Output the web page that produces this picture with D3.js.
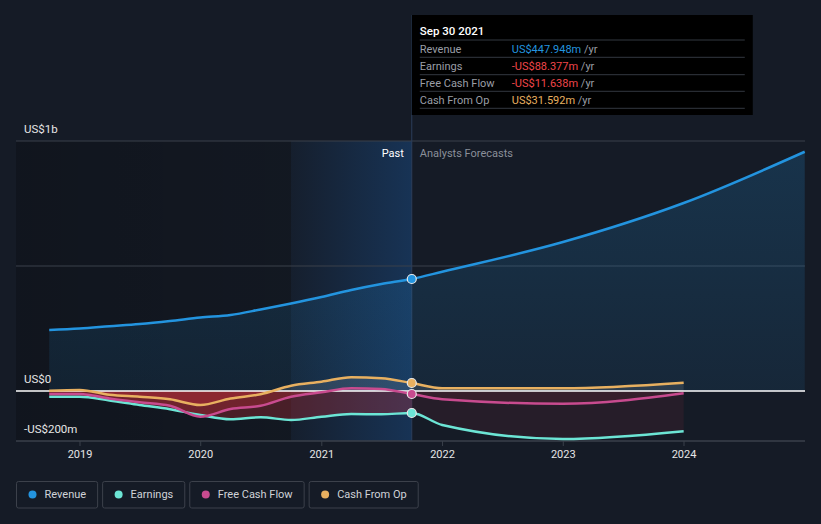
<!DOCTYPE html>
<html><head><meta charset="utf-8">
<script src="https://cdn.jsdelivr.net/npm/d3@7"></script>
<style>
body{margin:0;background:#151b26;}
svg{display:block;font-family:Roboto,"Open Sans",sans-serif;}
</style>
</head><body>
<svg id="chart" width="821" height="524"></svg>
<script>
// ---------- data ----------
const pastDates = ["2018-09-30","2018-12-31","2019-03-31","2019-06-30","2019-09-30","2019-12-31","2020-03-31","2020-06-30","2020-09-30","2020-12-31","2021-03-31","2021-06-30","2021-09-30"];
const forecastDates = ["2021-09-30","2021-12-31","2022-12-31","2023-12-31"];
const revenueForecastDates = ["2021-09-30","2021-12-31","2022-12-31","2023-12-31","2024-12-31"];

const revenuePast = [244,250,259,268,280,294,304,326,350,376,404,428,448];
const revenueForecast = [448,477,596,752,957];
const earningsPast = [-23,-23,-38,-56,-73,-96,-113,-105,-116,-103,-92,-93,-88];
const earningsForecast = [-88,-136,-192,-161];
const fcfPast = [-12,-12,-30,-45,-59,-103,-72,-59,-23,-5,11,8,-12];
const fcfForecast = [-12,-33,-51,-9];
const cfoPast = [1,4,-15,-23,-33,-56,-30,-13,21,37,55,51,32];
const cfoForecast = [32,11,11,33];

const yTicks = [{v:1000,label:"US$1b"},{v:500,label:""},{v:0,label:"US$0"},{v:-200,label:"-US$200m"}];
const xTickYears = [2019,2020,2021,2022,2023,2024];
const seriesNames = ["Revenue","Earnings","Free Cash Flow","Cash From Op"];
const seriesColors = ["#2394df","#6ce5d5","#c84b8f","#e8b060"];
const tooltipDate = "Sep 30 2021";
const tooltipValues = ["US$447.948m","-US$88.377m","-US$11.638m","US$31.592m"];
const tooltipValueColors = ["#2394df","#f0464a","#f0464a","#e8b060"];
const highlightStart = "2020-09-30";
const nowDate = "2021-09-30";

// ---------- setup ----------
const parse = d3.timeParse("%Y-%m-%d");
const svg = d3.select("#chart");
const L = 16, R = 805;
const x = d3.scaleTime().domain([new Date(2019,0,1), new Date(2024,0,1)]).range([80,684]);
const y = d3.scaleLinear().domain([-200,1000]).range([441,141]);
const xNow = x(parse(nowDate));
const xHi = x(parse(highlightStart));

function build(datesA, valsA, datesB, valsB){
  const a = datesA.map((d,i)=>({date:parse(d), v:valsA[i]}));
  const b = datesB.slice(1).map((d,i)=>({date:parse(d), v:valsB[i+1]}));
  return a.concat(b);
}
const revenue = build(pastDates, revenuePast, revenueForecastDates, revenueForecast);
const earnings = build(pastDates, earningsPast, forecastDates, earningsForecast);
const fcf = build(pastDates, fcfPast, forecastDates, fcfForecast);
const cfo = build(pastDates, cfoPast, forecastDates, cfoForecast);

const defs = svg.append("defs");
const gPast = defs.append("linearGradient").attr("id","pastDark").attr("x1","0").attr("x2","1").attr("y1","0").attr("y2","0");
gPast.append("stop").attr("offset","0").attr("stop-color","#000").attr("stop-opacity",0.22);
gPast.append("stop").attr("offset","1").attr("stop-color","#000").attr("stop-opacity",0.12);
const gHi = defs.append("linearGradient").attr("id","hi").attr("x1","0").attr("x2","1").attr("y1","0").attr("y2","0");
gHi.append("stop").attr("offset","0").attr("stop-color","#1e78dc").attr("stop-opacity",0.04);
gHi.append("stop").attr("offset","1").attr("stop-color","#1e78dc").attr("stop-opacity",0.26);
const gRev = defs.append("linearGradient").attr("id","revFill").attr("x1","0").attr("x2","0").attr("y1","0").attr("y2","1");
gRev.append("stop").attr("offset","0").attr("stop-color","#2394df").attr("stop-opacity",0.2);
gRev.append("stop").attr("offset","1").attr("stop-color","#2394df").attr("stop-opacity",0.1);

// clip paths
defs.append("clipPath").attr("id","belowPast").append("rect").attr("x",L).attr("y",y(0)).attr("width",xNow-L).attr("height",60);
defs.append("clipPath").attr("id","belowFut").append("rect").attr("x",xNow).attr("y",y(0)).attr("width",R-xNow).attr("height",60);
defs.append("clipPath").attr("id","above").append("rect").attr("x",L).attr("y",100).attr("width",R-L).attr("height",y(0)-100);

// backgrounds
svg.append("rect").attr("x",L).attr("y",y(1000)).attr("width",xHi-L).attr("height",y(-200)-y(1000)).attr("fill","url(#pastDark)");
svg.append("rect").attr("x",xHi).attr("y",y(1000)).attr("width",xNow-xHi).attr("height",y(-200)-y(1000)).attr("fill","url(#hi)");

// grid
svg.append("g").selectAll("line").data(yTicks.filter(t=>t.v!==0)).join("line")
  .attr("x1",L).attr("x2",R).attr("y1",d=>y(d.v)).attr("y2",d=>y(d.v))
  .attr("stroke","#3a404b").attr("stroke-width",1);

// now line
svg.append("line").attr("x1",xNow).attr("x2",xNow).attr("y1",15).attr("y2",y(-200))
  .attr("stroke","#2c3e5a").attr("stroke-width",1);

// revenue area
const area = d3.area().x(d=>x(d.date)).y0(y(0)).y1(d=>y(d.v)).curve(d3.curveMonotoneX);
const line = d3.line().x(d=>x(d.date)).y(d=>y(d.v)).curve(d3.curveMonotoneX);
svg.append("path").datum(revenue).attr("d",area).attr("fill","url(#revFill)");

// other areas
[earnings, fcf, cfo].forEach(s=>{
  svg.append("path").datum(s).attr("d",area).attr("clip-path","url(#belowPast)")
    .attr("fill","#d8323c").attr("fill-opacity",0.28);
  svg.append("path").datum(s).attr("d",area).attr("clip-path","url(#belowFut)")
    .attr("fill","#c83246").attr("fill-opacity",0.1);
  svg.append("path").datum(s).attr("d",area).attr("clip-path","url(#above)")
    .attr("fill","#ffffff").attr("fill-opacity",0.1);
});

// zero line
svg.append("line").attr("x1",L).attr("x2",R).attr("y1",y(0)).attr("y2",y(0))
  .attr("stroke","#ffffff").attr("stroke-width",1.5);

// x axis
const xAxis = svg.append("g").attr("transform",`translate(0,${y(-200)})`);
xAxis.append("line").attr("x1",L).attr("x2",R).attr("stroke","#3a404b");
xAxis.selectAll("g.t").data(xTickYears).join("g").attr("class","t")
  .attr("transform",d=>`translate(${x(new Date(d,0,1))},0)`)
  .call(g=>{
    g.append("line").attr("y2",5).attr("stroke","#3a404b");
    g.append("text").attr("y",17).attr("text-anchor","middle").attr("fill","#e6e6e6")
      .attr("font-size",11).text(d=>d);
  });

// lines
const all = [revenue, earnings, fcf, cfo];
all.forEach((s,i)=>{
  svg.append("path").datum(s).attr("d",line).attr("fill","none")
    .attr("stroke",seriesColors[i]).attr("stroke-width",2.5);
});
// dots
all.forEach((s,i)=>{
  const p = s.find(d=>+d.date===+parse(nowDate));
  svg.append("circle").attr("cx",x(p.date)).attr("cy",y(p.v)).attr("r",4.5)
    .attr("fill",seriesColors[i]).attr("stroke","#e8e8e8").attr("stroke-width",1.2);
});

// y labels
svg.append("g").selectAll("text").data(yTicks.filter(t=>t.label)).join("text")
  .attr("x",24).attr("y",d=>y(d.v)-8).attr("fill","#e6e6e6").attr("font-size",11.5).text(d=>d.label);

// past / forecast labels
svg.append("text").attr("x",xNow-8).attr("y",157).attr("text-anchor","end").attr("fill","#ffffff").attr("font-size",11).text("Past");
svg.append("text").attr("x",xNow+8).attr("y",157).attr("fill","#8a8f99").attr("font-size",11).text("Analysts Forecasts");

// tooltip
const tt = svg.append("g");
tt.append("rect").attr("x",xNow).attr("y",15).attr("width",341).attr("height",100).attr("fill","#000000");
tt.append("text").attr("x",xNow+8).attr("y",35).attr("fill","#ffffff").attr("font-size",11.5).attr("font-weight",500).text(tooltipDate);
const rowY = [40,57.3,74.7,91.3,108.3];
tt.selectAll("line").data(rowY).join("line").attr("x1",xNow+8).attr("x2",xNow+333)
  .attr("y1",d=>d).attr("y2",d=>d).attr("stroke","#333840");
seriesNames.forEach((n,i)=>{
  const by = rowY[i]+12.5;
  tt.append("text").attr("x",xNow+8).attr("y",by).attr("fill","#9a9ea6").attr("font-size",11).text(n);
  const t = tt.append("text").attr("x",xNow+100).attr("y",by).attr("font-size",11);
  t.append("tspan").attr("fill",tooltipValueColors[i]).text(tooltipValues[i]);
  t.append("tspan").attr("fill","#9a9ea6").text(" /yr");
});

// legend
const lg = svg.append("g");
let lx = 16.5;
seriesNames.forEach((n,i)=>{
  const g = lg.append("g");
  const txt = g.append("text").attr("x",lx+28).attr("y",498).attr("fill","#d0d3d8").attr("font-size",11).text(n);
  const w = txt.node().getComputedTextLength();
  const bw = w + 28 + 11.5;
  g.insert("rect","text").attr("x",lx).attr("y",481.5).attr("width",bw).attr("height",26.5)
    .attr("rx",2).attr("fill","none").attr("stroke","#3c414b");
  g.append("circle").attr("cx",lx+16).attr("cy",494.5).attr("r",4).attr("fill",seriesColors[i]);
  lx += bw + 5;
});
</script>
</body></html>
